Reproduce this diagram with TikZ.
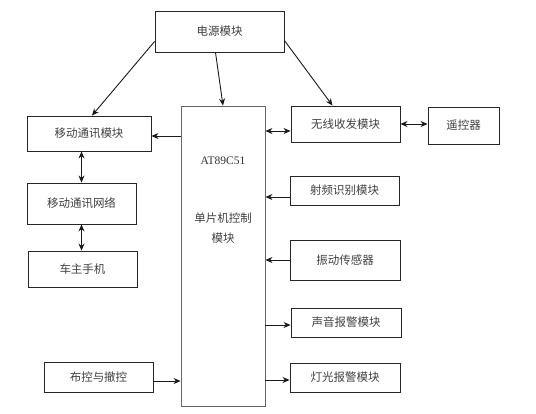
\documentclass[tikz,border=0pt]{standalone}
\usepackage{fontspec}
\setmainfont{Liberation Serif}
\newfontfamily\cjk{Noto Sans CJK SC}
\usetikzlibrary{arrows.meta,calc,positioning}

\tikzset{
  block/.style={draw=black!85,line width=0.9pt,rectangle,inner sep=0pt,
    font=\cjk\fontsize{11.5}{14}\selectfont,text=black!75},
  link/.style={line width=0.9pt,black!90}
}

\begin{document}
\begin{tikzpicture}[x=1pt,y=-1pt,>={Stealth[length=7pt,width=6pt]},align=center]
	\useasboundingbox (0,0) rectangle (536,413);
	% main controller and power supply
	\node[block,minimum width=129pt,minimum height=41pt] (power) at (219.5,31.5) {电源模块};
	\node[block,draw=black!60,minimum width=84pt,minimum height=300pt] (mcu) at (223,256) {};
	\node[font=\fontsize{11.5}{14}\selectfont,text=black!80] (mcutype) at (223,161) {AT89C51};
	\node[font=\cjk\fontsize{11.5}{20}\selectfont,text=black!75] (mcuname) at (223,228) {单片机控制\\模块};
	% left column
	\node[block,minimum width=124pt,minimum height=35pt] (mob) at (89,133.5) {移动通讯模块};
	\node[block,minimum width=109pt,minimum height=41pt] (net) at (81.5,203.5) {移动通讯网络};
	\node[block,minimum width=109pt,minimum height=36pt] (phone) at (82.5,269) {车主手机};
	\node[block,minimum width=109pt,minimum height=30pt] (arm) at (98.5,377) {布控与撤控};
	% right column
	\node[block,minimum width=109pt,minimum height=36pt] (wless) at (345.5,124) {无线收发模块};
	\node[block,minimum width=71pt,minimum height=37pt] (remote) at (463.5,125.5) {遥控器};
	\node[block,minimum width=109pt,minimum height=29pt] (rfid) at (344.5,190.5) {射频识别模块};
	\node[block,minimum width=110pt,minimum height=40pt] (vib) at (345,260) {振动传感器};
	\node[block,minimum width=110pt,minimum height=29pt] (sound) at (346,322.5) {声音报警模块};
	\node[block,minimum width=110pt,minimum height=29pt] (light) at (345,377.5) {灯光报警模块};

	\path ([yshift=-7pt]wless.west) coordinate (w1)
		([yshift=-2.5pt]mob.east) coordinate (m1)
		([yshift=-6.5pt]rfid.west) coordinate (r1)
		([yshift=-2.5pt]sound.west) coordinate (s1)
		([yshift=-2.5pt]light.west) coordinate (l1)
		([yshift=-4pt]arm.east) coordinate (a1);

	\path[link,->]
		([yshift=-10pt]power.west) edge ([xshift=3pt]mob.north)
		([xshift=-4pt]power.south) edge (mcu.north)
		([yshift=-9pt]power.east) edge ([xshift=-13pt]wless.north)
		(mcu.west |- m1) edge (m1)
		(r1) edge (mcu.east |- r1)
		(vib.west) edge (mcu.east |- vib.west)
		(mcu.east |- s1) edge (s1)
		(mcu.east |- l1) edge (l1)
		(a1) edge (mcu.west |- a1);
	\path[link,<->]
		(mcu.east |- w1) edge (w1)
		(wless.east) edge (remote.west |- wless.east)
		(mob.south -| net.north) edge (net.north)
		(net.south) edge (phone.north -| net.south);
\end{tikzpicture}
\end{document}
